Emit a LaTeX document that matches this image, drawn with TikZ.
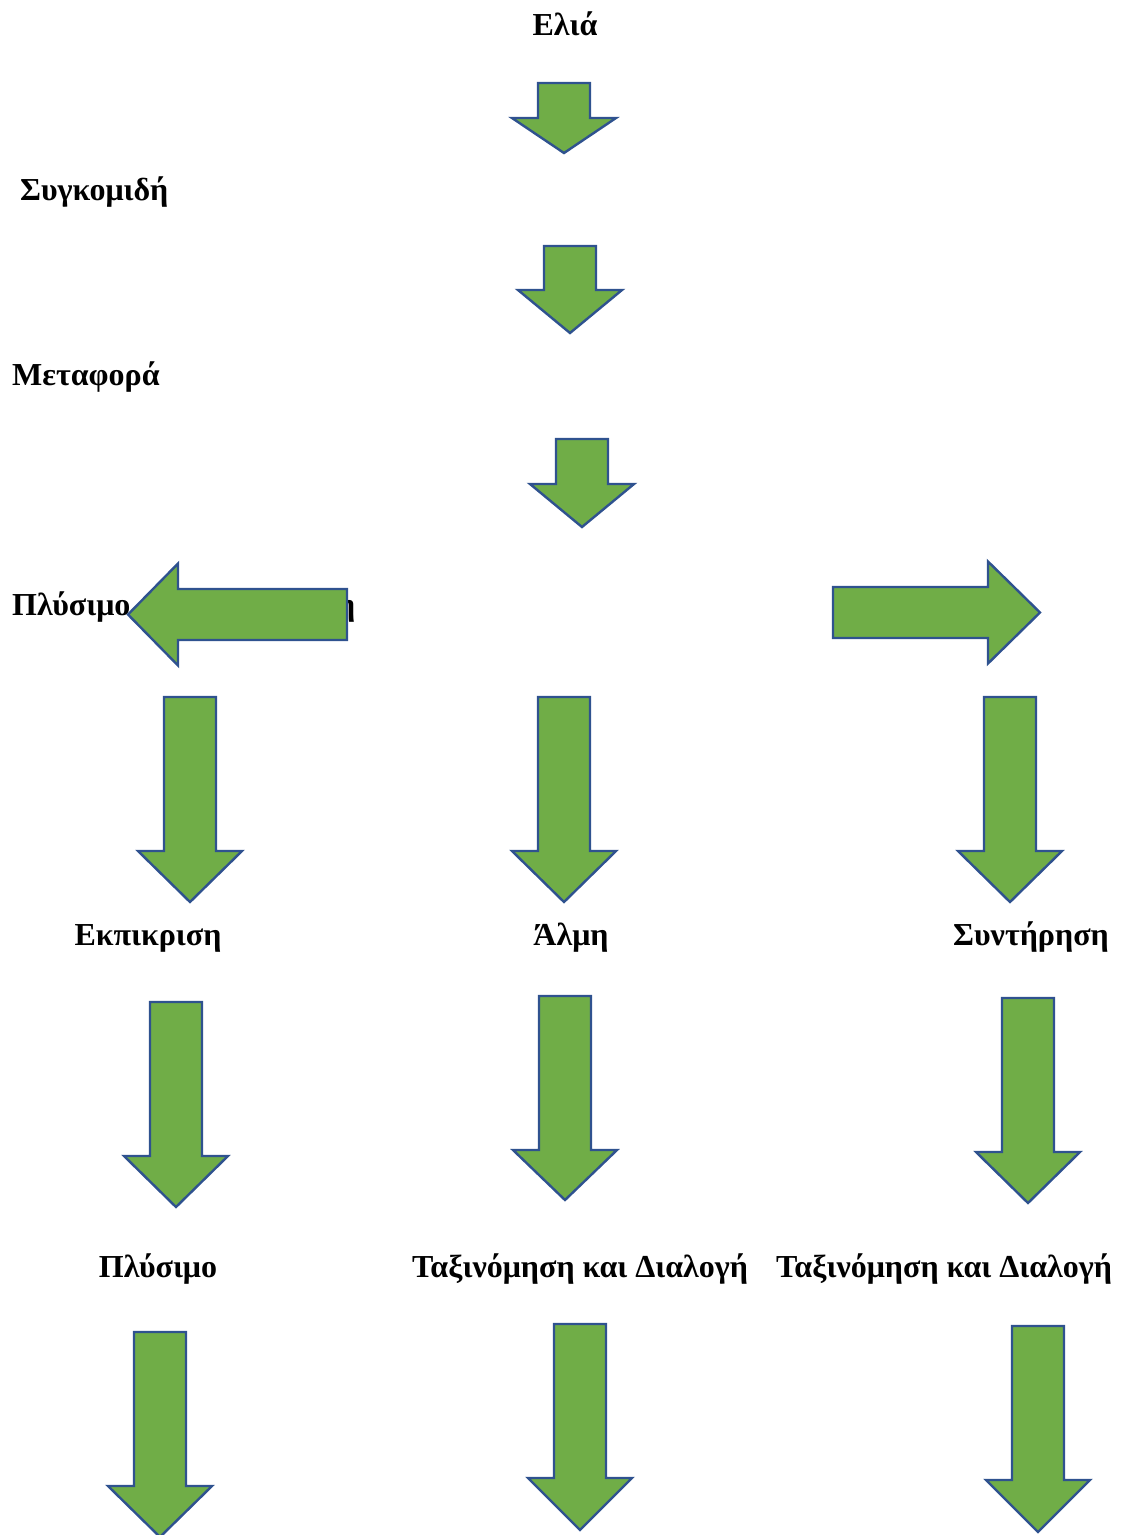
\documentclass[tikz,border=0pt]{standalone}
\usepackage{fontspec}
\setmainfont{Liberation Serif}
\usetikzlibrary{positioning}

% block arrows: centre, top, neck, tip
\newcommand\downblock[4]{%
  \draw[blockarrow] (#1-26,#2) -- (#1+26,#2) -- (#1+26,#3) -- (#1+52,#3)
    -- (#1,#4) -- (#1-52,#3) -- (#1-26,#3) -- cycle;}
% tail, centre line, neck, tip
\newcommand\sideblock[4]{%
  \draw[blockarrow] (#1,#2-25.5) -- (#3,#2-25.5) -- (#3,#2-51) -- (#4,#2)
    -- (#3,#2+51) -- (#3,#2+25.5) -- (#1,#2+25.5) -- cycle;}

\definecolor{leafgreen}{HTML}{70AD47}
\definecolor{edgeblue}{HTML}{2F528F}

\begin{document}
\begin{tikzpicture}[
    x=1pt,y=-1pt,
    stage/.style={inner sep=0pt,font=\fontsize{32}{37}\selectfont\bfseries},
    blockarrow/.style={fill=leafgreen,draw=edgeblue,line width=2.4pt,line join=miter}
  ]
  \useasboundingbox (0,0) rectangle (1123,1535);

  \node[stage,anchor=base] (elia) at (565,35) {Ελιά};
  \node[stage,anchor=base west] (harvest) at (20,200) {Συγκομιδή};
  \node[stage,anchor=base west] (transport) at (12,385) {Μεταφορά};
  \node[stage,anchor=base west,text width=343pt] (wash) at (12,615) {Πλύσιμο\hfill η};

  \node[stage,anchor=base] (debitter) at (148,945) {Εκπικριση};
  \node[stage,anchor=base] (brine) at (571,945) {Άλμη};
  \node[stage,anchor=base] (preserve) at (1031,945) {Συντήρηση};

  \node[stage,anchor=base] (wash2) at (158,1277) {Πλύσιμο};
  \node[stage,anchor=base] (sortA) at (580,1277) {Ταξινόμηση και Διαλογή};
  \node[stage,anchor=base] (sortB) at (944,1277) {Ταξινόμηση και Διαλογή};

  % main column
  \downblock{564}{83}{118}{153}
  \downblock{570}{246}{290}{333}
  \downblock{582}{439}{484}{527}

  % branches
  \sideblock{347}{614.5}{178}{128}
  \sideblock{833}{612.5}{988}{1040}

  \downblock{190}{697}{851}{902}
  \downblock{564}{697}{851}{902}
  \downblock{1010}{697}{851}{902}

  \downblock{176}{1002}{1156}{1207}
  \downblock{565}{996}{1150}{1200}
  \downblock{1028}{998}{1152}{1203}

  \downblock{160}{1332}{1486}{1537}
  \downblock{580}{1324}{1478}{1530}
  \downblock{1038}{1326}{1480}{1532}
\end{tikzpicture}
\end{document}
